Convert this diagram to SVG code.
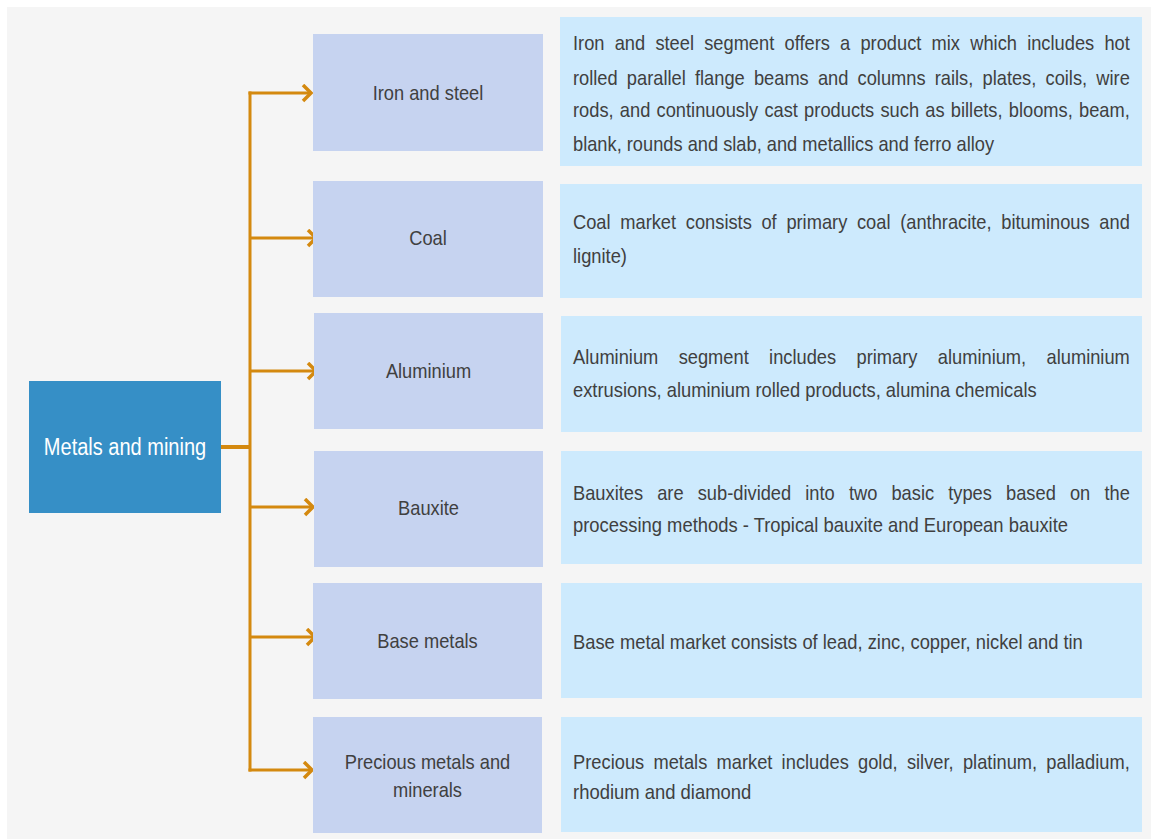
<svg xmlns="http://www.w3.org/2000/svg" width="1151" height="839" viewBox="0 0 1151 839">
<style>
.t{font-family:"Liberation Sans",Arial,sans-serif;font-size:21px;fill:#404040}
.w{font-family:"Liberation Sans",Arial,sans-serif;font-size:23px;fill:#ffffff}
.mid{fill:#c6d3f0}
.desc{fill:#cdeafd}
.c{fill:none;stroke:#d4890f;stroke-width:3}
</style>
<defs>
<marker id="ah" markerUnits="userSpaceOnUse" markerWidth="14" markerHeight="20" refX="11" refY="9" orient="auto">
<path d="M3,1 L11,9 L3,17" fill="none" stroke="#d4890f" stroke-width="3.5"/>
</marker>
</defs>
<rect x="0" y="0" width="1151" height="839" fill="#ffffff"/>
<rect x="7" y="7" width="1144" height="832" fill="#f5f5f5"/>

<g id="connectors">
<line class="c" x1="221" y1="447" x2="251" y2="447" style="stroke-width:4"/>
<line class="c" x1="250" y1="91.5" x2="250" y2="771.5"/>
<line class="c" x1="248.5" y1="93" x2="311" y2="93" marker-end="url(#ah)"/>
<line class="c" x1="250" y1="238" x2="316" y2="238" marker-end="url(#ah)"/>
<line class="c" x1="250" y1="371" x2="316" y2="371" marker-end="url(#ah)"/>
<line class="c" x1="250" y1="507" x2="313" y2="507" marker-end="url(#ah)"/>
<line class="c" x1="250" y1="637" x2="315" y2="637" marker-end="url(#ah)"/>
<line class="c" x1="248.5" y1="770" x2="312" y2="770" marker-end="url(#ah)"/>
</g>

<g id="root">
<rect x="29" y="381" width="192" height="132" fill="#368fc6"/>
<g transform="translate(125 0) scale(0.87 1)"><text class="w" x="0" y="455" text-anchor="middle">Metals and mining</text></g>
</g>

<g id="iron">
<rect class="mid" x="313" y="34" width="230" height="117"/>
<g transform="translate(428 0) scale(0.87 1)"><text class="t" x="0" y="100" text-anchor="middle">Iron and steel</text></g>
</g>
<g id="coal">
<rect class="mid" x="313" y="181" width="230" height="116"/>
<g transform="translate(428 0) scale(0.87 1)"><text class="t" x="0" y="245" text-anchor="middle">Coal</text></g>
</g>
<g id="aluminium">
<rect class="mid" x="314" y="313" width="229" height="116"/>
<g transform="translate(428.5 0) scale(0.87 1)"><text class="t" x="0" y="378" text-anchor="middle">Aluminium</text></g>
</g>
<g id="bauxite">
<rect class="mid" x="314" y="451" width="229" height="116"/>
<g transform="translate(428.5 0) scale(0.87 1)"><text class="t" x="0" y="515" text-anchor="middle">Bauxite</text></g>
</g>
<g id="base">
<rect class="mid" x="313" y="583" width="229" height="116"/>
<g transform="translate(427.5 0) scale(0.87 1)"><text class="t" x="0" y="648" text-anchor="middle">Base metals</text></g>
</g>
<g id="precious">
<rect class="mid" x="313" y="717" width="229" height="116"/>
<g transform="translate(427.5 0) scale(0.87 1)"><text class="t" x="0" y="769" text-anchor="middle">Precious metals and</text><text class="t" x="0" y="797" text-anchor="middle">minerals</text></g>
</g>

<g id="iron-desc">
<rect class="desc" x="560" y="17" width="582" height="149"/>
<g transform="translate(573 0) scale(0.87 1)">
<text class="t" x="0" y="50" word-spacing="5.9" textLength="640" lengthAdjust="spacing">Iron and steel segment offers a product mix which includes hot</text>
<text class="t" x="0" y="85" word-spacing="4.7" textLength="640" lengthAdjust="spacing">rolled parallel flange beams and columns rails, plates, coils, wire</text>
<text class="t" x="0" y="117" word-spacing="1.3" textLength="640" lengthAdjust="spacing">rods, and continuously cast products such as billets, blooms, beam,</text>
<text class="t" x="0" y="151" textLength="484" lengthAdjust="spacingAndGlyphs">blank, rounds and slab, and metallics and ferro alloy</text>
</g>
</g>
<g id="coal-desc">
<rect class="desc" x="560" y="184" width="582" height="114"/>
<g transform="translate(573 0) scale(0.87 1)">
<text class="t" x="0" y="229" word-spacing="5.3" textLength="640" lengthAdjust="spacing">Coal market consists of primary coal (anthracite, bituminous and</text>
<text class="t" x="0" y="263" textLength="62" lengthAdjust="spacingAndGlyphs">lignite)</text>
</g>
</g>
<g id="aluminium-desc">
<rect class="desc" x="561" y="316" width="581" height="116"/>
<g transform="translate(573 0) scale(0.87 1)">
<text class="t" x="0" y="364" word-spacing="17.6" textLength="640" lengthAdjust="spacing">Aluminium segment includes primary aluminium, aluminium</text>
<text class="t" x="0" y="397" textLength="533" lengthAdjust="spacingAndGlyphs">extrusions, aluminium rolled products, alumina chemicals</text>
</g>
</g>
<g id="bauxite-desc">
<rect class="desc" x="561" y="451" width="581" height="113"/>
<g transform="translate(573 0) scale(0.87 1)">
<text class="t" x="0" y="500" word-spacing="10.4" textLength="640" lengthAdjust="spacing">Bauxites are sub-divided into two basic types based on the</text>
<text class="t" x="0" y="532" textLength="569" lengthAdjust="spacingAndGlyphs">processing methods - Tropical bauxite and European bauxite</text>
</g>
</g>
<g id="base-desc">
<rect class="desc" x="561" y="583" width="581" height="115"/>
<g transform="translate(573 0) scale(0.87 1)">
<text class="t" x="0" y="649" textLength="586" lengthAdjust="spacingAndGlyphs">Base metal market consists of lead, zinc, copper, nickel and tin</text>
</g>
</g>
<g id="precious-desc">
<rect class="desc" x="561" y="717" width="581" height="115"/>
<g transform="translate(573 0) scale(0.87 1)">
<text class="t" x="0" y="769" word-spacing="4.7" textLength="640" lengthAdjust="spacing">Precious metals market includes gold, silver, platinum, palladium,</text>
<text class="t" x="0" y="799" textLength="205" lengthAdjust="spacingAndGlyphs">rhodium and diamond</text>
</g>
</g>
</svg>
